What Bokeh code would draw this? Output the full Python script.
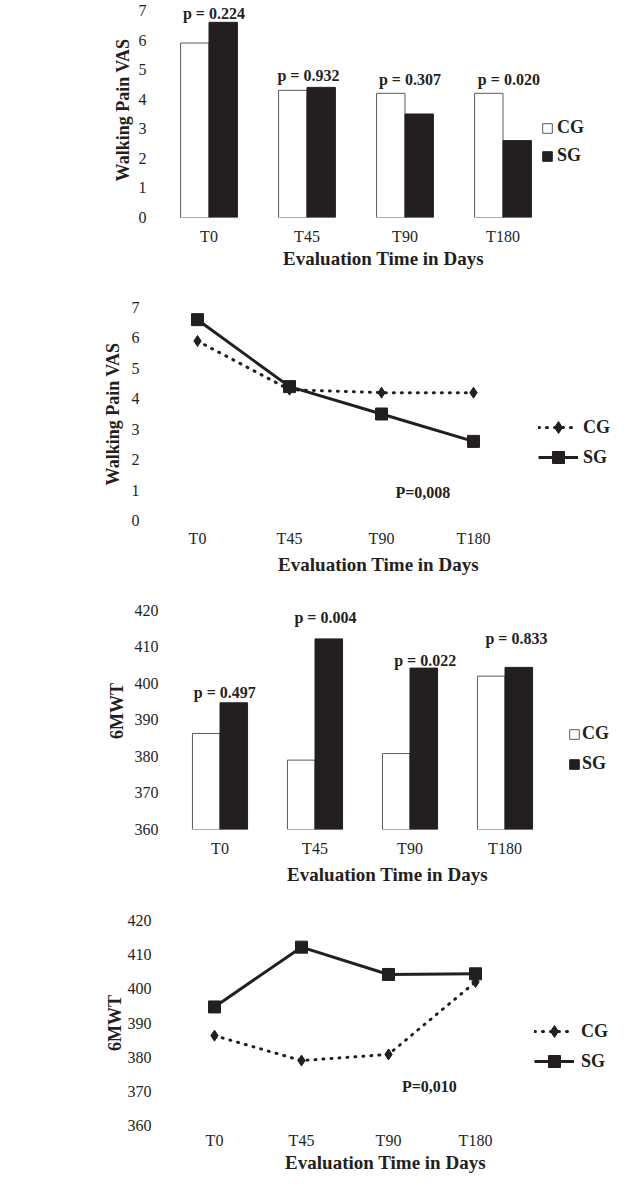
from bokeh.plotting import figure
from bokeh.models import (Range1d, FixedTicker, Legend, LegendItem,
                          LabelSet, ColumnDataSource)
from bokeh.transform import dodge
from bokeh.embed import file_html
from bokeh.resources import INLINE
from bokeh.core.properties import value

# ---------------- data ----------------
times = ["T0", "T45", "T90", "T180"]
groups = ["CG", "SG"]
vas_cg = [5.9, 4.3, 4.2, 4.2]
vas_sg = [6.6, 4.4, 3.5, 2.6]
mwt_cg = [386.3, 379.0, 380.8, 402.0]
mwt_sg = [394.7, 412.2, 404.2, 404.4]
p_vas = ["p = 0.224", "p = 0.932", "p = 0.307", "p = 0.020"]
p_mwt = ["p = 0.497", "p = 0.004", "p = 0.022", "p = 0.833"]
p_vas_overall = "P=0,008"
p_mwt_overall = "P=0,010"
vas_ticks = [0, 1, 2, 3, 4, 5, 6, 7]
mwt_ticks = [360, 370, 380, 390, 400, 410, 420]
x_title = "Evaluation Time in Days"
vas_title = "Walking Pain VAS"
mwt_title = "6MWT"

# annotation placement (layout only)
pA_pos_x = [1.05, 2.015, 3.05, 4.06]
pA_pos_y = [6.9, 4.8, 4.67, 4.67]
pC_pos_x = [1.05, 2.11, 3.16, 4.12]
pC_pos_y = [397.6, 418.1, 406.4, 412.2]

# ---------------- style ----------------
W = 612
INK = "#231f20"
SERIF = "Liberation Serif"
xpos = list(range(1, len(times) + 1))
overrides = {x: t for x, t in zip(xpos, times)}


def base_fig(H, frame_left, t0, step, y0, y1, top, bottom):
    xs = 1 - (t0 - frame_left) / step
    xe = 1 + (W - t0) / step
    p = figure(width=W, height=H, x_range=Range1d(xs, xe), y_range=Range1d(y0, y1),
               output_backend="svg", toolbar_location=None,
               min_border_left=frame_left, min_border_right=0,
               min_border_top=top, min_border_bottom=bottom)
    p.xgrid.visible = False
    p.ygrid.visible = False
    p.outline_line_color = None
    return p


def style_axes(p, yticks, ytitle, xs_lab, xs_title, ys_lab, ys_title):
    for ax in (p.xaxis[0], p.yaxis[0]):
        ax.axis_line_color = None
        ax.major_tick_line_color = None
        ax.minor_tick_line_color = None
        ax.major_tick_out = 0
        ax.major_tick_in = 0
        ax.major_label_text_font = SERIF
        ax.major_label_text_font_size = "16px"
        ax.major_label_text_color = INK
        ax.axis_label_text_font = SERIF
        ax.axis_label_text_font_style = "bold"
        ax.axis_label_text_color = INK
    p.xaxis[0].ticker = FixedTicker(ticks=xpos)
    p.xaxis[0].major_label_overrides = overrides
    p.xaxis[0].axis_label = x_title
    p.xaxis[0].axis_label_text_font_size = "19px"
    p.xaxis[0].major_label_standoff = xs_lab
    p.xaxis[0].axis_label_standoff = xs_title
    p.yaxis[0].ticker = FixedTicker(ticks=yticks)
    p.yaxis[0].axis_label = ytitle
    p.yaxis[0].axis_label_text_font_size = "18px"
    p.yaxis[0].major_label_standoff = ys_lab
    p.yaxis[0].axis_label_standoff = ys_title


def bar_panel(H, frame_left, t0, step, y0, y1, top, bottom, cg, sg,
              yticks, ytitle, ptexts, px, py, std, leg):
    p = base_fig(H, frame_left, t0, step, y0, y1, top, bottom)
    src = ColumnDataSource(dict(x=xpos, cg=cg, sg=sg))
    r_cg = p.vbar(x=dodge("x", -0.145), top="cg", bottom=y0, width=0.29, source=src,
                  fill_color="white", line_color="#5a5a5a", line_width=1)
    r_sg = p.vbar(x=dodge("x", 0.145), top="sg", bottom=y0, width=0.29, source=src,
                  fill_color=INK, line_color=INK, line_width=1)
    lsrc = ColumnDataSource(dict(x=px, y=py, text=ptexts))
    p.add_layout(LabelSet(x="x", y="y", text="text", source=lsrc,
                          text_font=value(SERIF), text_font_style="bold",
                          text_font_size="16px", text_color=INK,
                          text_align="center", text_baseline="middle"))
    style_axes(p, yticks, ytitle, *std)
    vx, vy, stand, spacing = leg
    legend = Legend(items=[LegendItem(label=groups[0], renderers=[r_cg]),
                           LegendItem(label=groups[1], renderers=[r_sg])],
                    location=(vx, vy), orientation="vertical",
                    glyph_width=12, glyph_height=12, label_height=21,
                    label_standoff=stand, spacing=spacing, padding=0, margin=0,
                    border_line_color=None, background_fill_alpha=0,
                    label_text_font=SERIF, label_text_font_style="bold",
                    label_text_font_size="18px", label_text_color=INK)
    p.add_layout(legend)
    return p


def line_panel(H, frame_left, t0, step, y0, y1, top, bottom, cg, sg,
               yticks, ytitle, ptext, ppos, std, leg):
    p = base_fig(H, frame_left, t0, step, y0, y1, top, bottom)
    src = ColumnDataSource(dict(x=xpos, cg=cg, sg=sg))
    l_cg = p.line("x", "cg", source=src, line_color=INK, line_width=3,
                  line_dash="1 7", line_cap="round")
    m_cg = p.scatter("x", "cg", source=src, marker="diamond", size=11,
                     fill_color=INK, line_color=INK)
    l_sg = p.line("x", "sg", source=src, line_color=INK, line_width=3)
    m_sg = p.scatter("x", "sg", source=src, marker="square", size=12,
                     fill_color=INK, line_color=INK)
    p.text(x=[ppos[0]], y=[ppos[1]], text=[ptext], text_font=value(SERIF),
           text_font_style="bold", text_font_size="16px", text_color=INK,
           text_align="center", text_baseline="middle")
    style_axes(p, yticks, ytitle, *std)
    vx, vy, stand = leg
    legend = Legend(items=[LegendItem(label=groups[0], renderers=[l_cg, m_cg]),
                           LegendItem(label=groups[1], renderers=[l_sg, m_sg])],
                    location=(vx, vy), orientation="vertical",
                    glyph_width=40, glyph_height=30, label_height=30,
                    label_standoff=stand, spacing=0, padding=0, margin=0,
                    border_line_color=None, background_fill_alpha=0,
                    label_text_font=SERIF, label_text_font_style="bold",
                    label_text_font_size="18px", label_text_color=INK)
    p.add_layout(legend)
    return p


HA, HB, HC, HD = 272, 310, 305, 288

# top of the bar charts' frames is raised a little so the p labels fit
yA_end = vas_ticks[-1] + 8 / 29.57
yC_end = mwt_ticks[-1] + 18 / 3.667

pA = bar_panel(HA, 154, 208.5, 98, vas_ticks[0], yA_end, 2, 55,
               vas_cg, vas_sg, vas_ticks, vas_title, p_vas, pA_pos_x, pA_pos_y,
               (10, 0, 8, 3), (387, 51, 4, 7))
pB = line_panel(HB, 144, 197, 92, vas_ticks[0], vas_ticks[-1], 35, 62,
                vas_cg, vas_sg, vas_ticks, vas_title, p_vas_overall, (3.45, 0.92),
                (9, 4, 5, 6), (394, 48, 5))
pC = bar_panel(HC, 162, 219.5, 95, mwt_ticks[0], yC_end, 10, 57,
               mwt_cg, mwt_sg, mwt_ticks, mwt_title, p_mwt, pC_pos_x, pC_pos_y,
               (10, 4, 4, 5), (406, 55, 2, 9))
pD = line_panel(HD, 158, 214, 87, mwt_ticks[0], mwt_ticks[-1], 33, 43,
                mwt_cg, mwt_sg, mwt_ticks, mwt_title, p_mwt_overall, (3.47, 371.3),
                (6, 0, 7, 0), (376, 49, 7))

roots = [pA, pB, pC, pD]
open("out.html", "w").write(file_html(roots, INLINE))
